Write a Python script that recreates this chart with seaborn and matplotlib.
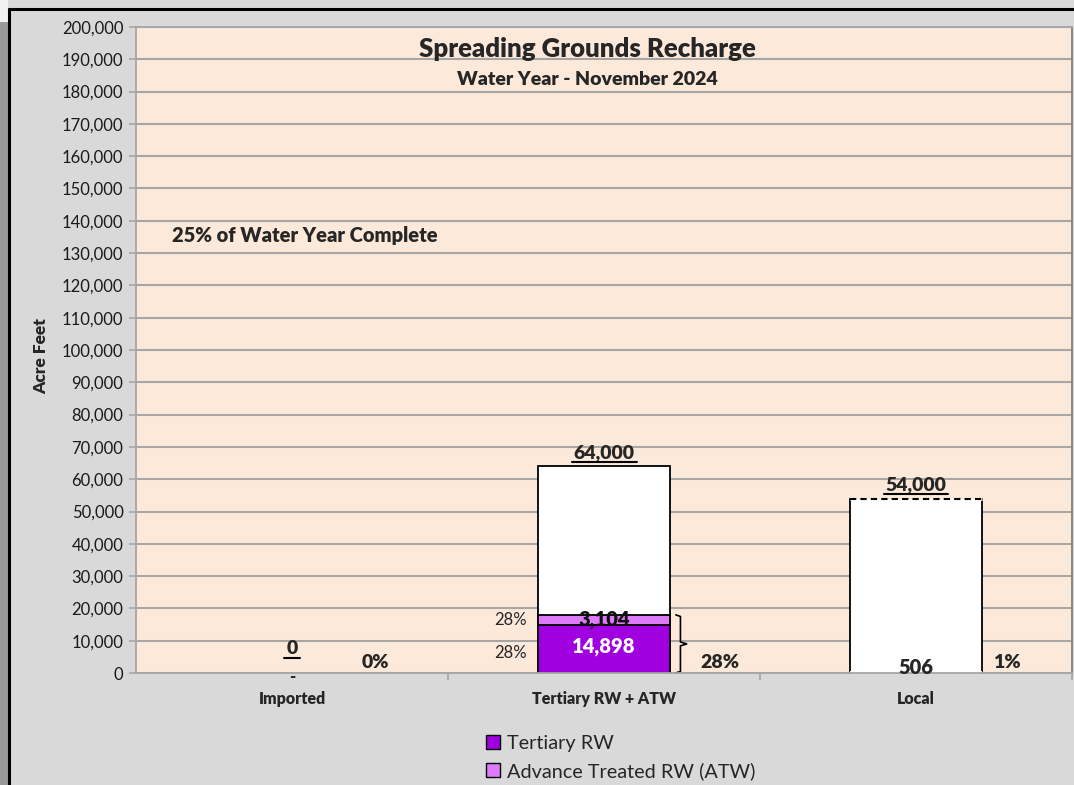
import pandas as pd
import matplotlib.pyplot as plt
import seaborn as sns
from matplotlib.patches import Patch, Rectangle
from matplotlib.lines import Line2D
from matplotlib.ticker import FuncFormatter, MultipleLocator, FixedLocator

# Chart values
categories = ['Imported', 'Tertiary RW + ATW', 'Local']
goals = [0, 64000, 54000]
recharge = [0, 14898, 506]      # Tertiary RW for the middle bar, actuals elsewhere
atw = [0, 3104, 0]              # Advance Treated RW
segment_pcts = ['28%', '28%']   # labels beside the Tertiary RW + ATW segments
wy_complete = '25% of Water Year Complete'

CHART_BG = '#d9d9d9'
PLOT_BG = '#fde9d9'
RW_COLOR = '#a000e0'
ATW_COLOR = '#dd7bfb'
GRID = '#a6a6a6'
BOLD = 'heavy'

sns.set_style('white')
plt.rcParams['font.family'] = ['Lato', 'DejaVu Sans']

df = pd.DataFrame({'category': categories, 'goal': goals,
                   'recharge': recharge, 'atw': atw})
df['stack'] = df['recharge'] + df['atw']

fig = plt.figure(figsize=(10.74, 7.85), dpi=100, facecolor='white')
# grey chart area with a black frame on the top/left
fig.patches.append(Rectangle((0, 0), 1, 1, transform=fig.transFigure,
                             facecolor=CHART_BG, edgecolor='none', zorder=-5))
fig.patches.append(Rectangle((0, 0), 8 / 1074, 1 - 22 / 785, transform=fig.transFigure,
                             facecolor='#999999', edgecolor='none', zorder=-5))
fig.patches.append(Rectangle((0, 1 - 22 / 785), 8 / 1074, 22 / 785, transform=fig.transFigure,
                             facecolor='#f2f2f2', edgecolor='none', zorder=-5))
fig.add_artist(Line2D([9 / 1074, 9 / 1074], [0, 1 - 9 / 785], color='black', lw=2.2))
fig.add_artist(Line2D([9 / 1074, 1], [1 - 9 / 785, 1 - 9 / 785], color='black', lw=2.2))

ax = fig.add_axes([136 / 1074, 1 - 673 / 785, 936 / 1074, 646 / 785])
ax.set_facecolor(PLOT_BG)
ax.set_axisbelow(True)

bar_w = 0.42
# layered bars: goal (white), then cumulative ATW, then Tertiary RW on top
sns.barplot(data=df, x='category', y='goal', color='white', saturation=1,
            width=bar_w, edgecolor='black', linewidth=1.3, ax=ax)
n_goal = len(ax.patches)
sns.barplot(data=df, x='category', y='stack', color=ATW_COLOR, saturation=1,
            width=bar_w, edgecolor='black', linewidth=1.3, ax=ax)
sns.barplot(data=df, x='category', y='recharge', color=RW_COLOR, saturation=1,
            width=bar_w, edgecolor='black', linewidth=1.3, ax=ax)
goal_patches = ax.patches[:n_goal]
stack_patches = ax.patches[n_goal:2 * n_goal]
rw_patches = ax.patches[2 * n_goal:]

for p in ax.patches:
    if p.get_height() == 0:
        p.set_linewidth(0)
# local has only a white piece
local = categories.index('Local')
rw_patches[local].set_facecolor('white')
stack_patches[local].set_linewidth(0)
rw_patches[local].set_linewidth(0)

# dashed top edge on the Local goal bar
gp = goal_patches[local]
ax.hlines(gp.get_height(), gp.get_x(), gp.get_x() + gp.get_width(),
          colors='white', lw=2, zorder=5)
ax.hlines(gp.get_height(), gp.get_x(), gp.get_x() + gp.get_width(),
          colors='black', lw=1.5, linestyles=(0, (3, 2)), zorder=6)

ax.set_ylim(0, 200000)
ax.set_xlim(-0.5, len(categories) - 0.5)
ax.yaxis.set_major_locator(MultipleLocator(10000))
ax.yaxis.set_major_formatter(FuncFormatter(lambda v, _: f'{v:,.0f}'))
ax.grid(axis='y', color=GRID, lw=1.5)
ax.grid(axis='x', visible=False)
for s in ax.spines.values():
    s.set_color(GRID)
    s.set_linewidth(1.3)
ax.spines['right'].set_color('#808080')
ax.tick_params(axis='y', length=5, width=1.2, color=GRID, labelsize=12, pad=4,
               labelcolor='#1a1a1a', left=True)
ax.tick_params(axis='x', which='major', length=0, pad=13, labelsize=11.5)
ax.xaxis.set_minor_locator(FixedLocator([i + 0.5 for i in range(len(categories))]))
ax.tick_params(axis='x', which='minor', length=5, width=1.2, color=GRID, bottom=True)
for lbl in ax.get_xticklabels():
    lbl.set_fontweight(BOLD)
ax.set_xlabel('')
ax.set_ylabel('Acre Feet', fontsize=12.5, fontweight=BOLD)
ax.yaxis.set_label_coords(-0.093, 0.49)

ax.text(0.482, 0.966, 'Spreading Grounds Recharge', transform=ax.transAxes,
        ha='center', va='center', fontsize=18.5, fontweight=BOLD)
ax.text(0.482, 0.9195, 'Water Year - November 2024', transform=ax.transAxes,
        ha='center', va='center', fontsize=14, fontweight=BOLD)
ax.text(0.038, 0.678, wy_complete, transform=ax.transAxes,
        ha='left', va='center', fontsize=14.5, fontweight=BOLD)

# goal labels (underlined)
goal_texts = []
for i, g in enumerate(goals):
    off = 25 if g == 0 else 14
    t = ax.annotate(f'{g:,}', (i, g), xytext=(0, off), textcoords='offset pixels',
                    ha='center', va='center', fontsize=14, fontweight=BOLD)
    goal_texts.append(t)

# value labels
mid = categories.index('Tertiary RW + ATW')
ax.annotate('-', (0, 0), xytext=(0, -4), textcoords='offset pixels',
            ha='center', va='center', fontsize=12, fontweight=BOLD)
ax.text(mid, recharge[mid] / 2 + 700, f'{recharge[mid]:,}', ha='center', va='center',
        fontsize=14.5, fontweight=BOLD, color='white')
ax.text(mid, recharge[mid] + atw[mid] / 2, f'{atw[mid]:,}', ha='center', va='center',
        fontsize=14.5, fontweight=BOLD, color='#111111', zorder=7)
ax.annotate(f'{recharge[local]:,}', (local, recharge[local]), xytext=(0, 4),
            textcoords='offset pixels', ha='center', va='center', fontsize=14.5,
            fontweight=BOLD, zorder=7)

# percent of goal labels
for i, g in enumerate(goals):
    pct = 0 if g == 0 else round(100 * (recharge[i] + atw[i]) / g)
    xo = {0: 0.267, 1: 0.37, 2: 0.29}[i]
    ax.annotate(f'{pct}%', (i + xo, 0), xytext=(0, 10), textcoords='offset pixels',
                ha='center', va='center', fontsize=14, fontweight=BOLD)
ax.text(mid - 0.30, recharge[mid] + atw[mid] / 2, segment_pcts[0], ha='center',
        va='center', fontsize=12)
ax.text(mid - 0.30, recharge[mid] / 2 - 1200, segment_pcts[1], ha='center',
        va='center', fontsize=12)

# curly brace next to the middle bar
bx = mid + bar_w / 2 + 0.035
top = recharge[mid] + atw[mid]
brace_x = [bx - 0.015, bx, bx, bx + 0.02, bx, bx, bx - 0.015]
brace_y = [top, top - 500, top / 2 + 600, top / 2, top / 2 - 600, 500, 0]
ax.plot(brace_x, brace_y, color='black', lw=1.2, clip_on=False)

handles = [Patch(facecolor=RW_COLOR, edgecolor='black', label='Tertiary RW'),
           Patch(facecolor=ATW_COLOR, edgecolor='black', label='Advance Treated RW (ATW)')]
fig.legend(handles=handles, loc='upper left', bbox_to_anchor=(486 / 1074, 1 - 735 / 785),
           frameon=False, fontsize=14.3, handlelength=0.7, handleheight=0.7,
           handletextpad=0.35, labelspacing=0.5, borderaxespad=0, borderpad=0)

# underline goal labels
fig.canvas.draw()
for t in goal_texts:
    bb = t.get_window_extent()
    fig.add_artist(Line2D([bb.x0 - 2, bb.x1 + 2], [bb.y0 - 1, bb.y0 - 1], color='black',
                          lw=1.5, transform=None))

fig.savefig('out.png', dpi=100, facecolor=fig.get_facecolor())
